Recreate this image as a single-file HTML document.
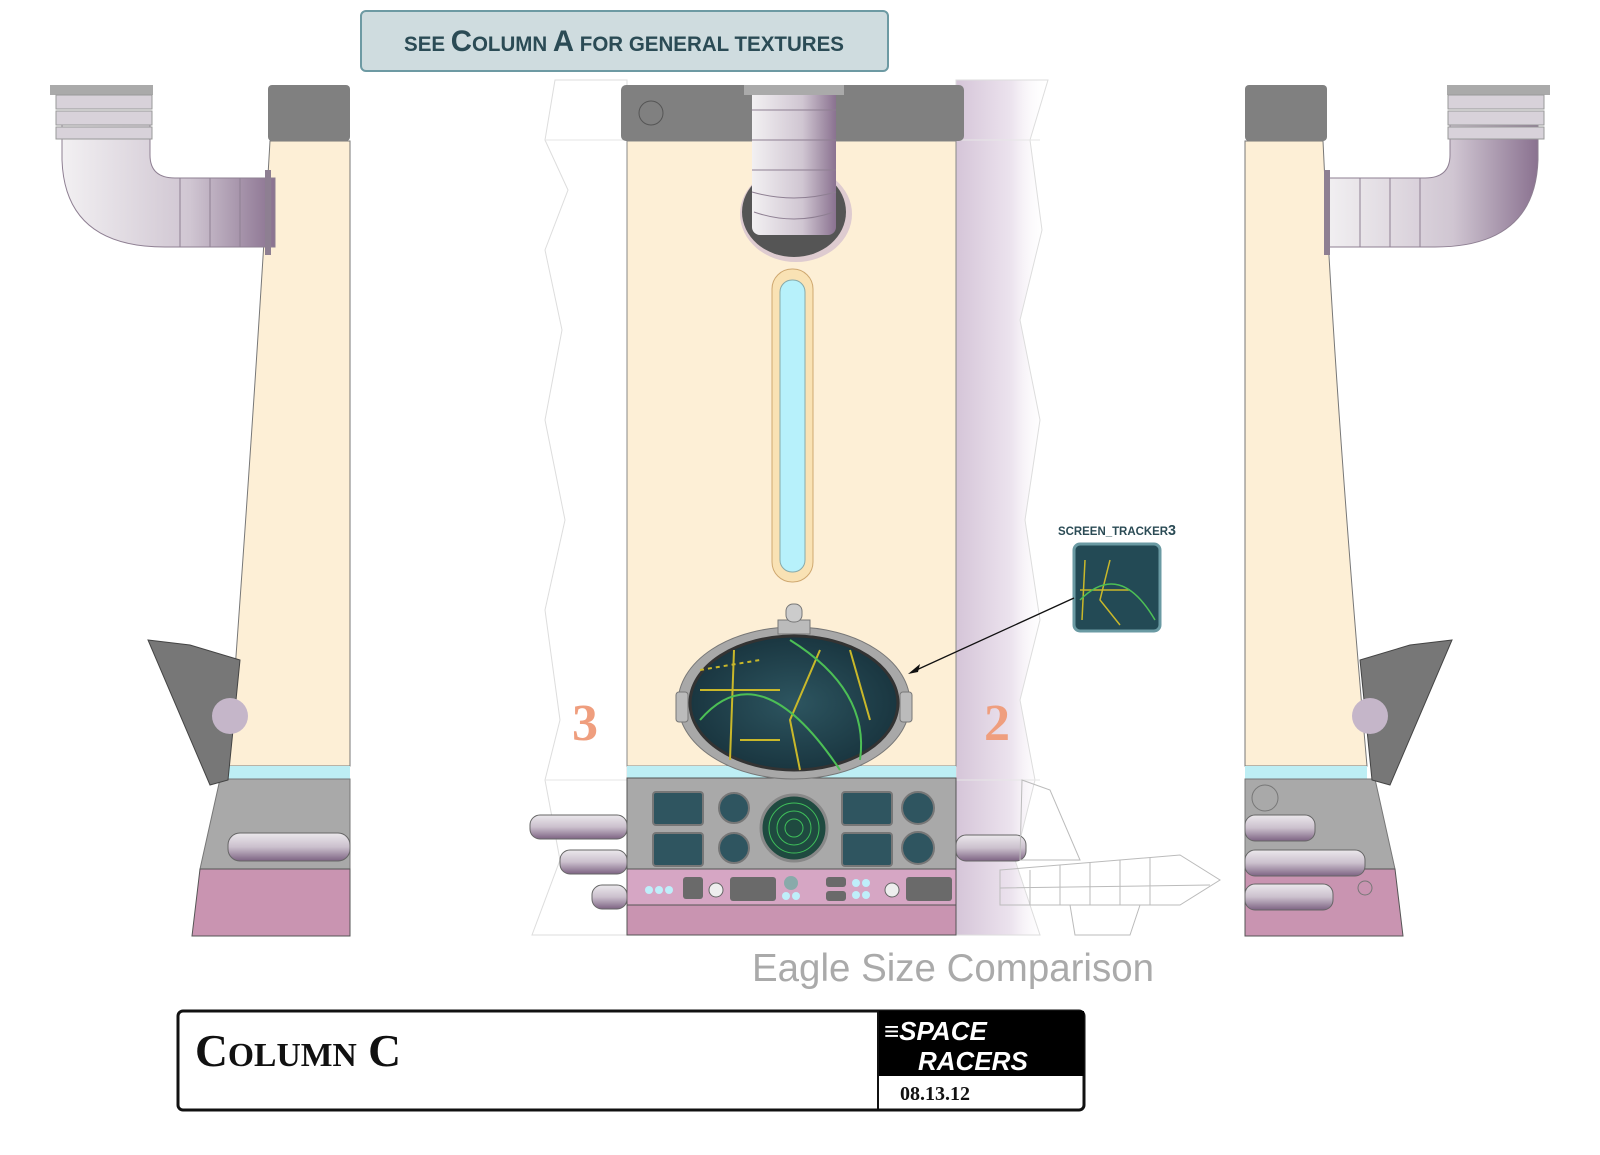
<!DOCTYPE html>
<html><head><meta charset="utf-8"><style>
html,body{margin:0;padding:0;background:#fff;}
svg{display:block;}
</style></head><body>
<svg width="1600" height="1155" viewBox="0 0 1600 1155" xmlns="http://www.w3.org/2000/svg" font-family="Liberation Sans, sans-serif">
<defs>
<linearGradient id="pipeV" x1="0" x2="1" y1="0" y2="0"><stop offset="0" stop-color="#f2f0f2"/><stop offset="0.6" stop-color="#d0c6d2"/><stop offset="1" stop-color="#8a7290"/></linearGradient>
<linearGradient id="pipeH" x1="0" x2="0" y1="0" y2="1"><stop offset="0" stop-color="#ebe8ec"/><stop offset="0.5" stop-color="#cbc0cd"/><stop offset="1" stop-color="#7d6383"/></linearGradient>
<linearGradient id="shade" x1="0" x2="1"><stop offset="0" stop-color="#d5c5d8"/><stop offset="0.6" stop-color="#ece3ee"/><stop offset="1" stop-color="#fff" stop-opacity="0"/></linearGradient>
<radialGradient id="scr" cx="0.5" cy="0.5" r="0.6"><stop offset="0" stop-color="#2d5560"/><stop offset="1" stop-color="#16303a"/></radialGradient>
<radialGradient id="hole" cx="0.5" cy="0.4" r="0.6"><stop offset="0.6" stop-color="#555"/><stop offset="1" stop-color="#b49cb8" stop-opacity="0.6"/></radialGradient>
</defs>

<!-- top note -->
<rect x="361" y="11" width="527" height="60" rx="5" fill="#cfdcdf" stroke="#6d9aa3" stroke-width="2"/>
<text x="404" y="51" font-size="21" fill="#2b4b55" font-weight="bold" textLength="440" lengthAdjust="spacingAndGlyphs">SEE <tspan font-size="30">C</tspan>OLUMN <tspan font-size="30">A</tspan> FOR GENERAL TEXTURES</text>

<!-- background paper behind center -->
<path d="M555 80 L627 80 L627 935 L532 935 L560 860 L545 780 L560 720 L545 610 L565 520 L545 420 L562 330 L545 250 L568 190 L545 140 Z" fill="#fff" stroke="#ddd"/>
<path d="M956 80 L1048 80 L1030 140 L1042 230 L1020 320 L1040 420 L1025 520 L1040 620 L1020 700 L1035 780 L1015 860 L1040 935 L956 935 Z" fill="url(#shade)" stroke="#ddd"/>
<line x1="545" y1="140" x2="1040" y2="140" stroke="#e6e6e6"/>
<line x1="545" y1="780" x2="1040" y2="780" stroke="#e6e6e6"/>

<!-- CENTER COLUMN -->
<rect x="627" y="141" width="329" height="625" fill="#fdefd6" stroke="#888"/>
<rect x="621" y="85" width="343" height="56" rx="5" fill="#808080"/>
<circle cx="651" cy="113" r="12" fill="none" stroke="#555"/>
<!-- top pipe -->
<ellipse cx="796" cy="214" rx="56" ry="48" fill="#c9b2cc" opacity="0.6"/>
<ellipse cx="794" cy="212" rx="52" ry="45" fill="#555"/>
<rect x="752" y="85" width="84" height="150" rx="8" fill="url(#pipeV)"/>
<rect x="744" y="85" width="100" height="10" fill="#aaa"/>
<g stroke="#8e7f92" fill="none"><line x1="752" y1="110" x2="836" y2="110"/><line x1="752" y1="140" x2="836" y2="140"/><line x1="752" y1="170" x2="836" y2="170"/><path d="M752 192 Q794 204 836 192"/><path d="M754 212 Q794 226 834 212"/></g>
<!-- slot -->
<rect x="772" y="269" width="41" height="313" rx="20" fill="#f9e2b4" stroke="#cfa870"/>
<rect x="780" y="280" width="25" height="292" rx="12" fill="#b7f1fb" stroke="#8aa"/>
<!-- cyan band -->
<rect x="627" y="766" width="329" height="12" fill="#bdeef4"/>
<!-- panel -->
<rect x="627" y="778" width="329" height="91" fill="#a9a9a9" stroke="#555"/>
<rect x="627" y="869" width="329" height="36" fill="#d6a6c4" stroke="#555"/>
<rect x="627" y="905" width="329" height="30" fill="#c994b1" stroke="#555"/>
<g fill="#2f5560" stroke="#777" stroke-width="2">
<rect x="653" y="792" width="50" height="33" rx="3"/><rect x="653" y="833" width="50" height="33" rx="3"/>
<rect x="842" y="792" width="50" height="33" rx="3"/><rect x="842" y="833" width="50" height="33" rx="3"/>
<circle cx="734" cy="808" r="15"/><circle cx="734" cy="848" r="15"/>
<circle cx="918" cy="808" r="16"/><circle cx="918" cy="848" r="16"/>
</g>
<circle cx="794" cy="828" r="33" fill="#1f4a40" stroke="#888" stroke-width="3"/>
<g fill="none" stroke="#3fbf5a"><circle cx="794" cy="828" r="25"/><circle cx="794" cy="828" r="17"/><circle cx="794" cy="828" r="9"/></g>
<g fill="#6a6a6a"><rect x="683" y="877" width="20" height="22" rx="3"/><rect x="730" y="877" width="46" height="24" rx="3"/><rect x="826" y="877" width="20" height="10" rx="3"/><rect x="826" y="891" width="20" height="10" rx="3"/><rect x="906" y="877" width="46" height="24" rx="3"/></g>
<g fill="#bfeefa"><circle cx="649" cy="890" r="4"/><circle cx="659" cy="890" r="4"/><circle cx="669" cy="890" r="4"/><circle cx="856" cy="883" r="4"/><circle cx="866" cy="883" r="4"/><circle cx="856" cy="895" r="4"/><circle cx="866" cy="895" r="4"/><circle cx="786" cy="896" r="4"/><circle cx="796" cy="896" r="4"/></g>
<circle cx="716" cy="890" r="7" fill="#eee" stroke="#666"/><circle cx="892" cy="890" r="7" fill="#eee" stroke="#666"/><circle cx="791" cy="883" r="7" fill="#8aa"/>
<!-- side pipes center -->
<g fill="url(#pipeH)" stroke="#666">
<rect x="530" y="815" width="97" height="24" rx="10"/><rect x="560" y="850" width="67" height="24" rx="10"/><rect x="592" y="885" width="35" height="24" rx="10"/>
<rect x="956" y="835" width="70" height="26" rx="10"/>
</g>
<!-- oval screen -->
<ellipse cx="794" cy="703" rx="116" ry="76" fill="#a8a8a8" stroke="#777"/>
<ellipse cx="794" cy="703" rx="104" ry="67" fill="url(#scr)" stroke="#333" stroke-width="3"/>
<g fill="none" stroke="#c9b82a" stroke-width="2"><path d="M734 650 L730 760"/><path d="M700 690 L780 690"/><path d="M820 650 L790 720 L800 770"/><path d="M850 650 L870 720"/><path d="M740 740 L780 740"/><path d="M700 670 L760 660" stroke-dasharray="4 4"/></g>
<g fill="none" stroke="#4cbf55" stroke-width="2"><path d="M700 720 Q760 650 840 770"/><path d="M790 640 Q870 690 860 760"/></g>
<rect x="676" y="692" width="12" height="30" rx="3" fill="#bbb" stroke="#777"/><rect x="900" y="692" width="12" height="30" rx="3" fill="#bbb" stroke="#777"/>
<rect x="778" y="620" width="32" height="14" fill="#bbb" stroke="#777"/><rect x="786" y="604" width="16" height="18" rx="7" fill="#ccc" stroke="#777"/>
<text x="585" y="740" font-family="Liberation Serif, serif" font-size="52" font-weight="bold" fill="#ef9e7e" text-anchor="middle">3</text>
<text x="997" y="740" font-family="Liberation Serif, serif" font-size="52" font-weight="bold" fill="#ef9e7e" text-anchor="middle">2</text>

<!-- tracker -->
<text x="1058" y="535" font-size="12" fill="#2b4b55" font-weight="bold" textLength="118" lengthAdjust="spacingAndGlyphs">SCREEN_TRACKER<tspan font-size="15">3</tspan></text>
<rect x="1074" y="544" width="86" height="87" rx="6" fill="#234a55" stroke="#6a9aa3" stroke-width="3"/>
<g fill="none" stroke="#c9b82a" stroke-width="1.5"><path d="M1085 560 L1082 620"/><path d="M1110 560 L1100 600 L1120 625"/><path d="M1080 590 L1130 590"/></g>
<g fill="none" stroke="#4cbf55" stroke-width="1.5"><path d="M1080 600 Q1120 560 1155 620"/></g>
<line x1="1074" y1="598" x2="912" y2="672" stroke="#111" stroke-width="1.3"/>
<path d="M908 674 L920 664 L918 672 Z" fill="#111"/>

<!-- eagle wireframe approx -->
<g fill="none" stroke="#bbb" stroke-width="1">
<path d="M1022 780 L1050 790 L1080 860 L1020 860 Z"/>
<path d="M1000 870 L1180 855 L1220 880 L1180 905 L1000 905 Z"/>
<path d="M1070 905 L1140 905 L1130 935 L1075 935 Z"/>
<path d="M1030 870 L1030 905 M1060 865 L1060 905 M1090 862 L1090 905 M1120 860 L1120 905 M1150 858 L1150 905 M1000 888 L1210 885"/>
</g>
<text x="752" y="981" font-size="39" fill="#aaa" textLength="402" lengthAdjust="spacingAndGlyphs">Eagle Size Comparison</text>

<!-- LEFT COLUMN -->
<path d="M270 141 L350 141 L350 766 L228 766 Q255 400 270 141 Z" fill="#fdefd6" stroke="#777"/>
<rect x="268" y="85" width="82" height="56" rx="4" fill="#808080"/>
<rect x="228" y="766" width="122" height="13" fill="#bdeef4"/>
<path d="M220 779 L350 779 L350 869 L200 869 Z" fill="#a9a9a9" stroke="#777"/>
<path d="M200 869 L350 869 L350 936 L192 936 Z" fill="#c994b1" stroke="#555"/>
<rect x="228" y="833" width="122" height="28" rx="12" fill="url(#pipeH)" stroke="#666"/>
<path d="M148 640 L190 645 L240 660 L228 780 L210 785 Z" fill="#777" stroke="#444"/>
<circle cx="230" cy="716" r="18" fill="#c5b6c9"/>
<!-- left elbow pipe -->
<path d="M62 125 L150 125 L150 155 Q150 178 175 178 L275 178 L275 247 L165 247 Q65 247 62 160 Z" fill="url(#pipeV)" stroke="#8e7f92"/>
<rect x="50" y="85" width="103" height="10" fill="#aaa"/>
<g fill="#d8d2da" stroke="#999"><rect x="56" y="95" width="96" height="14"/><rect x="56" y="111" width="96" height="14"/><rect x="56" y="127" width="96" height="12"/></g>
<g stroke="#8e7f92"><line x1="180" y1="178" x2="180" y2="247"/><line x1="210" y1="178" x2="210" y2="247"/><line x1="240" y1="178" x2="240" y2="247"/><line x1="268" y1="170" x2="268" y2="255" stroke-width="6"/></g>

<!-- RIGHT COLUMN -->
<path d="M1245 141 L1323 141 Q1335 400 1367 766 L1245 766 Z" fill="#fdefd6" stroke="#777"/>
<rect x="1245" y="85" width="82" height="56" rx="4" fill="#808080"/>
<rect x="1245" y="766" width="122" height="13" fill="#bdeef4"/>
<path d="M1245 779 L1375 779 L1395 869 L1245 869 Z" fill="#a9a9a9" stroke="#777"/>
<path d="M1245 869 L1395 869 L1403 936 L1245 936 Z" fill="#c994b1" stroke="#555"/>
<circle cx="1265" cy="798" r="13" fill="none" stroke="#777"/>
<circle cx="1365" cy="888" r="7" fill="none" stroke="#777"/>
<g fill="url(#pipeH)" stroke="#666"><rect x="1245" y="815" width="70" height="26" rx="10"/><rect x="1245" y="850" width="120" height="26" rx="10"/><rect x="1245" y="884" width="88" height="26" rx="10"/></g>
<path d="M1452 640 L1410 645 L1360 660 L1372 780 L1390 785 Z" fill="#777" stroke="#444"/>
<circle cx="1370" cy="716" r="18" fill="#c5b6c9"/>
<path d="M1538 125 L1450 125 L1450 155 Q1450 178 1425 178 L1325 178 L1325 247 L1435 247 Q1535 247 1538 160 Z" fill="url(#pipeV)" stroke="#8e7f92"/>
<rect x="1447" y="85" width="103" height="10" fill="#aaa"/>
<g fill="#d8d2da" stroke="#999"><rect x="1448" y="95" width="96" height="14"/><rect x="1448" y="111" width="96" height="14"/><rect x="1448" y="127" width="96" height="12"/></g>
<g stroke="#8e7f92"><line x1="1360" y1="178" x2="1360" y2="247"/><line x1="1390" y1="178" x2="1390" y2="247"/><line x1="1420" y1="178" x2="1420" y2="247"/><line x1="1327" y1="170" x2="1327" y2="255" stroke-width="6"/></g>

<!-- title block -->
<rect x="178" y="1011" width="906" height="99" rx="5" fill="#fff" stroke="#111" stroke-width="3"/>
<rect x="878" y="1011" width="206" height="65" fill="#000"/>
<line x1="878" y1="1011" x2="878" y2="1110" stroke="#111" stroke-width="2"/>
<text x="195" y="1066" font-family="Liberation Serif, serif" font-size="46" font-weight="bold" fill="#111" textLength="206" lengthAdjust="spacingAndGlyphs">C<tspan font-size="34">OLUMN</tspan> C</text>
<text x="884" y="1040" font-size="26" font-style="italic" font-weight="bold" fill="#fff">≡SPACE</text>
<text x="918" y="1070" font-size="26" font-style="italic" font-weight="bold" fill="#fff">RACERS</text>
<text x="900" y="1100" font-family="Liberation Serif, serif" font-size="20" font-weight="bold" fill="#111">08.13.12</text>
</svg>
</body></html>
